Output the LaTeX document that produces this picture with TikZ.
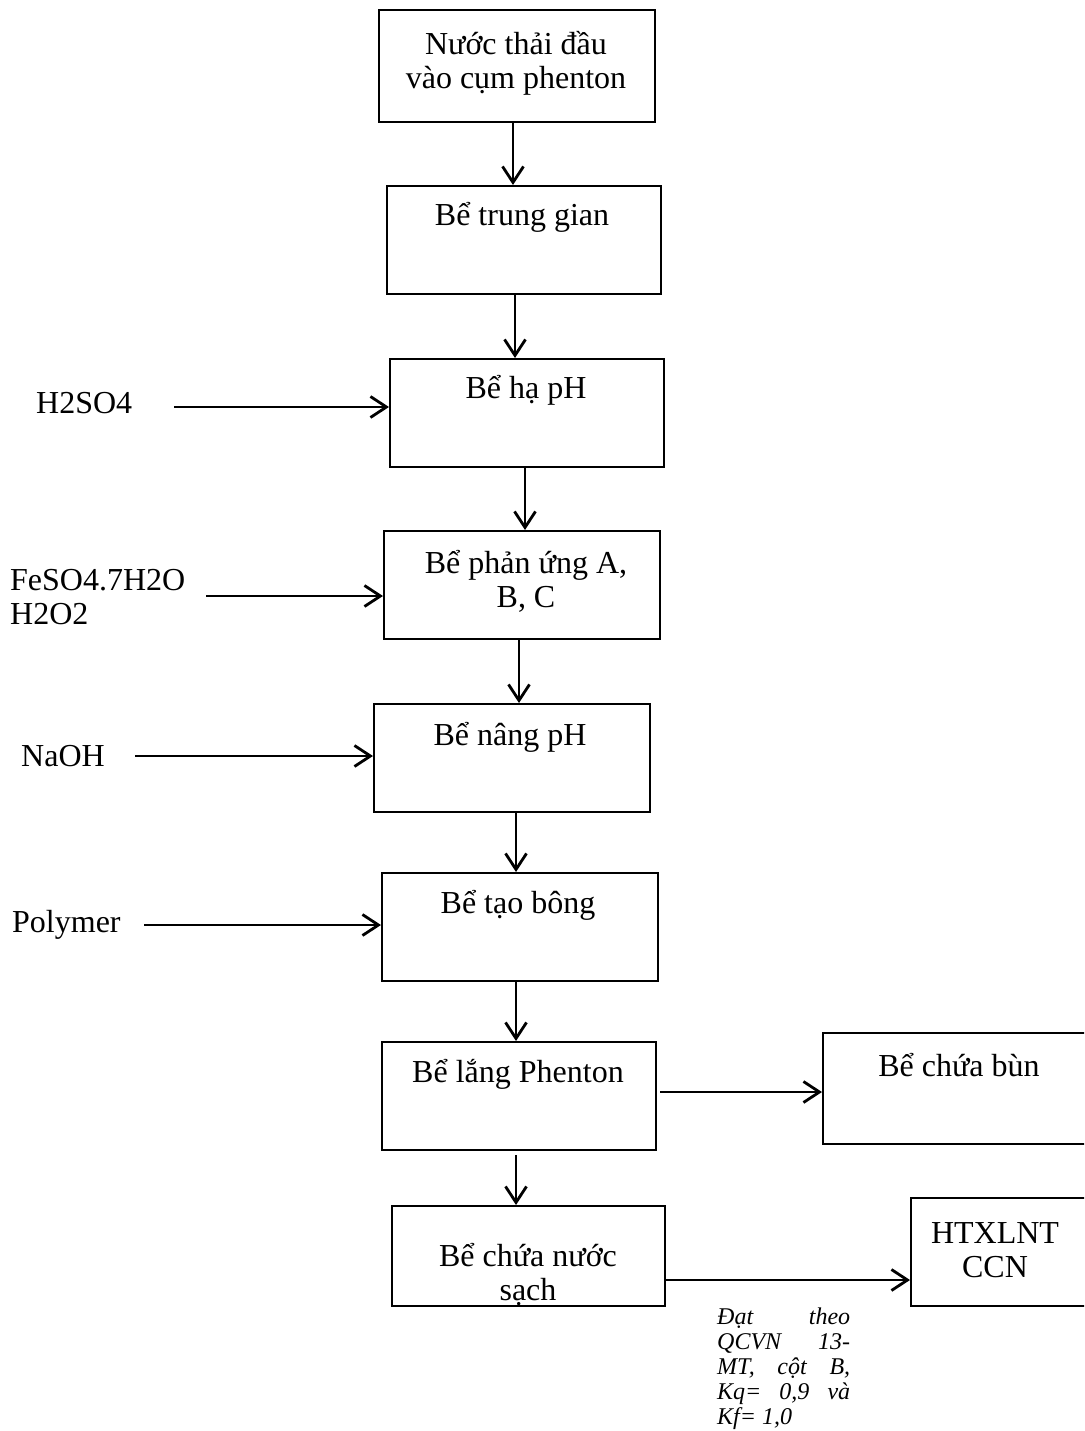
\documentclass[tikz,border=0pt]{standalone}
\usepackage{fontspec}
\setmainfont{Liberation Serif}
\usetikzlibrary{arrows.meta}
\begin{document}
\begin{tikzpicture}[x=1pt,y=-1pt,
  tank/.style={draw, line width=2.4pt, inner sep=0pt, anchor=north west},
  txt/.style={font=\fontsize{32}{34}\selectfont, inner sep=0pt, align=center},
  chem/.style={font=\fontsize{32}{34}\selectfont, inner sep=0pt, align=left, anchor=west},
  note/.style={font=\fontsize{24}{25}\itshape, inner sep=0pt, text width=133pt, align=justify, anchor=north west},
  flow/.style={line width=2.8pt, -{Straight Barb[length=16pt,width=21pt]}},
]
\useasboundingbox (0,0) rectangle (1084,1431);
\clip (0,0) rectangle (1084,1431);

% process tanks
\node[tank, minimum width=276pt, minimum height=112pt] (b1) at (378,9) {};
\node[tank, minimum width=274pt, minimum height=108pt] (b2) at (386,185) {};
\node[tank, minimum width=274pt, minimum height=108pt] (b3) at (389,358) {};
\node[tank, minimum width=276pt, minimum height=108pt] (b4) at (383,530) {};
\node[tank, minimum width=276pt, minimum height=108pt] (b5) at (373,703) {};
\node[tank, minimum width=276pt, minimum height=108pt] (b6) at (381,872) {};
\node[tank, minimum width=274pt, minimum height=108pt] (b7) at (381,1041) {};
\node[tank, minimum width=266pt, minimum height=111pt] (b8) at (822,1032) {};
\node[tank, minimum width=273pt, minimum height=100pt] (b9) at (391,1205) {};
\node[tank, minimum width=178pt, minimum height=108pt] (b10) at (910,1197) {};

% tank labels
\node[txt] (t1) at (516,63) {Nước thải đầu\\vào cụm phenton};
\node[txt, anchor=mid] (t2) at (522,223) {Bể trung gian};
\node[txt, anchor=mid] (t3) at (526,396) {Bể hạ pH};
\node[txt] (t4) at (526,581) {Bể phản ứng A,\\B, C};
\node[txt, anchor=mid] (t5) at (510,743) {Bể nâng pH};
\node[txt, anchor=mid] (t6) at (518,911) {Bể tạo bông};
\node[txt, anchor=mid] (t7) at (518,1080) {Bể lắng Phenton};
\node[txt, anchor=mid] (t8) at (959,1074) {Bể chứa bùn};
\node[txt] (t9) at (528,1275) {Bể chứa nước\\sạch};
\node[txt] (t10) at (995,1250) {HTXLNT\\CCN};

% chemical dosing labels
\node[chem, anchor=mid west] (c1) at (36,411) {H2SO4};
\node[chem] (c2) at (10,597) {FeSO4.7H2O\\H2O2};
\node[chem, anchor=mid west] (c3) at (21,764) {NaOH};
\node[chem, anchor=mid west] (c4) at (12,930) {Polymer};

% discharge note
\node[note] (n1) at (717,1308) {Đạt theo\linebreak QCVN 13-\linebreak MT, cột B,\linebreak Kq= 0,9 và\linebreak Kf= 1,0};

% main flow
\coordinate (x1) at (513,0);
\coordinate (x2) at (515,0);
\coordinate (x3) at (525,0);
\coordinate (x4) at (519,0);
\coordinate (x5) at (516,0);
\draw[flow] (b1.south -| x1) -- (b2.north -| x1);
\draw[flow] (b2.south -| x2) -- (b3.north -| x2);
\draw[flow] (b3.south -| x3) -- (b4.north -| x3);
\draw[flow] (b4.south -| x4) -- (b5.north -| x4);
\draw[flow] (b5.south -| x5) -- (b6.north -| x5);
\draw[flow] (b6.south -| x5) -- (b7.north -| x5);
\draw[flow] ([yshift=-4pt]b7.south -| x5) -- (b9.north -| x5);

% chemical dosing lines
\coordinate (s1) at (174,407);
\coordinate (s2) at (206,596);
\coordinate (s3) at (135,756);
\coordinate (s4) at (144,925);
\draw[flow] (s1) -- (s1 -| b3.west);
\draw[flow] (s2) -- (s2 -| b4.west);
\draw[flow] (s3) -- (s3 -| b5.west);
\draw[flow] (s4) -- (s4 -| b6.west);

% sludge and treated water outlets
\coordinate (y1) at (0,1092);
\coordinate (y2) at (0,1280);
\draw[flow] ([xshift=3pt]b7.east |- y1) -- (b8.west |- y1);
\draw[flow] (b9.east |- y2) -- (b10.west |- y2);
\end{tikzpicture}
\end{document}
